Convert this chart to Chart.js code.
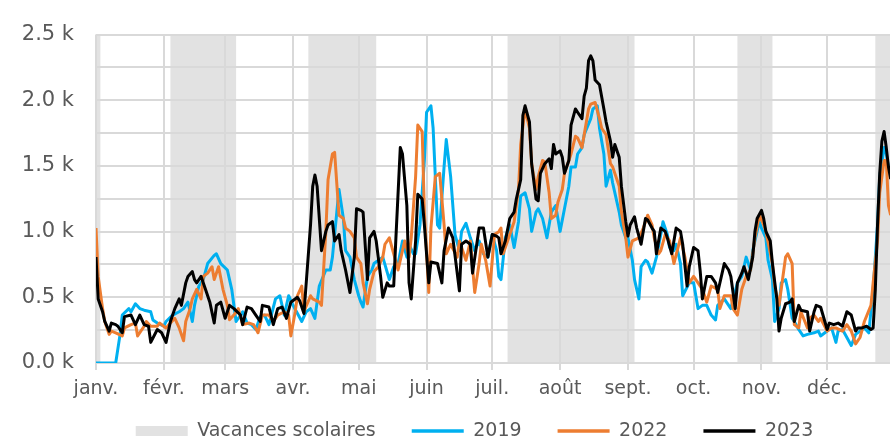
<!DOCTYPE html>
<html>
<head>
<meta charset="utf-8">
<script src="https://cdn.jsdelivr.net/npm/chart.js@4/dist/chart.umd.min.js"></script>
<style>
  body { margin: 0; background: #fff; }
</style>
</head>
<body>
<canvas id="myChart" width="890" height="442"></canvas>
<script>
// month ticks (day of year where each month starts)
const monthStarts = [0, 31, 59, 90, 120, 151, 181, 212, 243, 273, 304, 334];
const monthLabels = ["janv.", "févr.", "mars", "avr.", "mai", "juin", "juil.", "août", "sept.", "oct.", "nov.", "déc."];

// school holidays (day of year)
const vacStart = [0, 34, 97, 188, 293, 356];
const vacEnd = [2, 64, 128, 246, 309, 365];

// 2019
const days2019 = [0, 9, 11, 12, 15, 16, 18, 20, 22, 25, 26, 28, 31, 32, 35, 38, 40, 42, 44, 45, 47, 49, 51, 54, 55, 57, 60, 62, 64, 67, 69, 71, 73, 75, 77, 79, 82, 84, 86, 88, 90, 94, 96, 98, 100, 102, 105, 107, 108, 110, 111, 113, 114, 116, 118, 120, 121, 122, 124, 126, 127, 129, 131, 134, 136, 138, 140, 142, 143, 145, 146, 148, 150, 151, 153, 154, 156, 157, 159, 160, 162, 164, 166, 167, 169, 171, 173, 175, 177, 179, 181, 183, 184, 185, 187, 189, 191, 193, 194, 196, 198, 199, 201, 202, 204, 206, 208, 210, 211, 212, 214, 216, 217, 219, 220, 222, 223, 226, 227, 229, 230, 232, 233, 235, 236, 239, 240, 242, 243, 245, 246, 248, 249, 251, 252, 254, 256, 258, 259, 261, 262, 264, 265, 267, 268, 271, 273, 275, 277, 279, 281, 283, 284, 287, 289, 290, 293, 295, 297, 299, 300, 303, 304, 306, 307, 309, 310, 312, 313, 315, 316, 318, 319, 321, 323, 325, 328, 330, 331, 334, 336, 338, 339, 341, 343, 345, 347, 349, 351, 353, 355, 357, 358, 360, 361, 362];
const vals2019 = [0, 0, 218, 365, 414, 390, 451, 414, 402, 390, 328, 304, 280, 316, 365, 390, 414, 463, 316, 439, 586, 635, 757, 819, 831, 757, 708, 561, 316, 390, 304, 292, 255, 353, 365, 292, 488, 512, 365, 512, 439, 316, 390, 414, 340, 586, 708, 708, 806, 1149, 1321, 1100, 855, 806, 635, 512, 463, 426, 659, 708, 757, 782, 806, 635, 733, 757, 929, 806, 904, 831, 831, 1051, 1542, 1909, 1958, 1787, 1051, 1027, 1493, 1701, 1419, 978, 855, 1002, 1064, 953, 855, 929, 831, 806, 978, 855, 659, 635, 953, 1051, 880, 1076, 1272, 1296, 1174, 1002, 1149, 1174, 1100, 953, 1149, 1198, 1100, 1002, 1174, 1346, 1493, 1493, 1591, 1640, 1738, 1860, 1934, 1958, 1787, 1591, 1346, 1468, 1370, 1149, 1051, 953, 953, 782, 635, 488, 733, 782, 769, 684, 806, 978, 1076, 978, 880, 855, 904, 757, 512, 610, 610, 414, 439, 439, 365, 328, 439, 488, 439, 414, 610, 659, 806, 708, 855, 1076, 1027, 953, 782, 635, 316, 414, 610, 635, 561, 341, 316, 255, 206, 218, 230, 243, 206, 243, 267, 157, 243, 255, 194, 133, 218, 243, 267, 230, 561, 1051, 1419, 1640, 1591, 1493];

// 2022
const days2022 = [0, 1, 3, 4, 6, 7, 9, 12, 13, 16, 18, 19, 22, 23, 25, 28, 29, 32, 34, 36, 38, 40, 41, 43, 44, 46, 48, 49, 51, 53, 54, 56, 58, 60, 61, 63, 65, 67, 70, 72, 74, 76, 79, 81, 83, 86, 88, 89, 91, 92, 94, 95, 98, 99, 102, 103, 105, 106, 108, 109, 111, 113, 114, 116, 118, 119, 121, 122, 124, 125, 127, 129, 131, 132, 134, 136, 138, 140, 141, 143, 144, 146, 147, 149, 150, 152, 153, 155, 157, 159, 160, 162, 165, 166, 169, 171, 173, 175, 176, 178, 180, 182, 184, 185, 186, 188, 191, 193, 194, 196, 198, 199, 201, 202, 204, 205, 207, 208, 210, 211, 213, 214, 217, 219, 220, 222, 223, 225, 226, 228, 230, 231, 233, 235, 236, 239, 240, 242, 243, 245, 248, 250, 252, 254, 255, 257, 258, 260, 262, 264, 267, 269, 271, 273, 274, 277, 279, 281, 284, 285, 287, 290, 291, 293, 295, 297, 299, 301, 303, 305, 306, 309, 310, 312, 313, 315, 316, 318, 319, 321, 322, 325, 326, 328, 330, 331, 334, 336, 338, 341, 343, 345, 347, 349, 351, 354, 355, 357, 358, 360, 361, 362, 363];
const vals2022 = [1027, 659, 414, 316, 218, 243, 230, 206, 267, 292, 304, 206, 280, 316, 280, 280, 304, 267, 304, 340, 267, 169, 316, 414, 488, 561, 488, 659, 684, 733, 635, 733, 561, 439, 330, 365, 414, 292, 304, 292, 230, 365, 365, 316, 365, 390, 365, 206, 390, 512, 586, 390, 512, 488, 463, 439, 1002, 1395, 1591, 1603, 1125, 1100, 1027, 1002, 953, 806, 757, 610, 451, 561, 696, 733, 806, 904, 953, 831, 708, 855, 929, 806, 953, 1419, 1811, 1762, 1149, 537, 1027, 1419, 1444, 1051, 831, 904, 806, 929, 782, 929, 537, 757, 904, 782, 586, 978, 1000, 1027, 831, 929, 1076, 1321, 1664, 1934, 1787, 1517, 1321, 1419, 1542, 1529, 1296, 1100, 1125, 1223, 1321, 1444, 1591, 1726, 1713, 1640, 1738, 1934, 1970, 1983, 1860, 1787, 1738, 1517, 1493, 1346, 1149, 953, 806, 929, 953, 1027, 1125, 1051, 953, 831, 855, 978, 929, 757, 953, 806, 610, 659, 635, 561, 463, 586, 561, 414, 512, 512, 414, 365, 561, 659, 708, 953, 1125, 1051, 1002, 757, 586, 439, 561, 806, 831, 757, 292, 267, 390, 267, 341, 365, 316, 341, 243, 267, 267, 243, 292, 243, 145, 194, 316, 439, 610, 929, 1296, 1542, 1542, 1198, 1125];

// 2023
const days2023 = [0, 1, 3, 4, 6, 7, 9, 10, 12, 13, 16, 18, 20, 22, 24, 25, 28, 30, 32, 34, 36, 38, 39, 41, 42, 44, 45, 46, 48, 50, 52, 54, 55, 57, 59, 61, 63, 66, 67, 69, 71, 73, 75, 76, 79, 81, 83, 85, 87, 89, 92, 93, 95, 98, 99, 100, 101, 103, 105, 106, 108, 109, 111, 112, 114, 116, 118, 119, 121, 122, 124, 125, 127, 128, 130, 131, 133, 134, 136, 137, 139, 140, 142, 143, 144, 146, 147, 149, 150, 152, 153, 156, 158, 159, 161, 163, 166, 167, 169, 171, 172, 175, 177, 179, 181, 183, 184, 185, 187, 189, 191, 192, 194, 195, 196, 198, 199, 201, 202, 203, 205, 207, 208, 209, 210, 212, 213, 214, 216, 217, 219, 220, 222, 223, 224, 225, 226, 227, 228, 230, 232, 233, 235, 236, 237, 239, 240, 242, 243, 244, 246, 247, 249, 251, 252, 254, 255, 256, 258, 260, 261, 263, 265, 267, 268, 270, 271, 273, 275, 276, 277, 279, 281, 283, 284, 287, 289, 290, 292, 293, 295, 296, 298, 300, 301, 302, 304, 305, 306, 308, 309, 311, 312, 313, 315, 317, 318, 319, 321, 322, 325, 326, 328, 329, 331, 334, 335, 337, 339, 341, 343, 345, 347, 348, 350, 352, 354, 355, 356, 357, 358, 359, 360, 361, 362, 363];
const vals2023 = [806, 488, 390, 316, 243, 304, 292, 280, 230, 353, 365, 292, 365, 292, 280, 157, 255, 230, 157, 316, 414, 488, 439, 610, 659, 696, 635, 610, 659, 561, 463, 304, 439, 463, 340, 439, 414, 365, 292, 426, 414, 365, 316, 439, 426, 292, 414, 426, 340, 463, 500, 475, 377, 1051, 1346, 1431, 1346, 855, 1002, 1051, 1076, 929, 978, 855, 708, 537, 806, 1174, 1162, 1149, 635, 953, 1002, 929, 659, 500, 610, 586, 586, 953, 1640, 1591, 1198, 610, 488, 929, 1284, 1248, 1051, 610, 769, 757, 610, 855, 1027, 953, 549, 904, 929, 904, 684, 1027, 1027, 806, 978, 966, 953, 831, 929, 1100, 1149, 1248, 1395, 1885, 1958, 1836, 1517, 1248, 1235, 1444, 1517, 1554, 1480, 1664, 1591, 1615, 1566, 1444, 1542, 1811, 1934, 1909, 1860, 2032, 2093, 2301, 2338, 2300, 2154, 2118, 1934, 1836, 1689, 1566, 1664, 1566, 1346, 1076, 966, 1051, 1113, 1027, 904, 1100, 1088, 1027, 1002, 831, 1027, 1002, 953, 831, 1027, 1002, 904, 586, 733, 880, 855, 700, 488, 659, 659, 610, 537, 757, 708, 659, 414, 610, 684, 733, 635, 806, 1002, 1100, 1162, 1100, 1002, 929, 757, 488, 243, 341, 451, 463, 488, 316, 439, 402, 390, 243, 390, 439, 426, 255, 304, 292, 304, 280, 390, 365, 243, 267, 267, 280, 255, 267, 561, 1051, 1444, 1689, 1762, 1640, 1493, 1400];

const bandColor = "#e2e2e2";
const textColor = "#595959";
const gridColor = "#d9d9d9";

const toPoints = (days, vals) => days.map((d, i) => ({ x: d, y: vals[i] }));

// grey holiday bands behind the grid
const vacancesBands = {
  id: "vacancesBands",
  beforeDraw(chart) {
    const { ctx, chartArea, scales } = chart;
    ctx.save();
    ctx.fillStyle = bandColor;
    for (let i = 0; i < vacStart.length; i++) {
      const x1 = scales.x.getPixelForValue(vacStart[i]);
      const x2 = Math.min(scales.x.getPixelForValue(vacEnd[i]), chartArea.right);
      ctx.fillRect(x1, chartArea.top, x2 - x1, chartArea.bottom - chartArea.top);
    }
    ctx.restore();
  },
};

// move the legend a bit (up, and centred a little right of the canvas)
const legendShift = {
  id: "legendShift",
  afterLayout(chart) {
    const lg = chart.legend;
    lg.top -= 19.5;
    lg.bottom -= 19.5;
    lg.left = 59;
  },
};

Chart.defaults.font.family = "DejaVu Sans";
Chart.defaults.color = textColor;

new Chart("myChart", {
  type: "line",
  data: {
    datasets: [
      { label: "2019", data: toPoints(days2019, vals2019), borderColor: "#00b0f0", order: 2 },
      { label: "2022", data: toPoints(days2022, vals2022), borderColor: "#ed7d31", order: 1 },
      { label: "2023", data: toPoints(days2023, vals2023), borderColor: "#000000", order: 0 },
    ],
  },
  options: {
    responsive: false,
    animation: false,
    devicePixelRatio: 1,
    layout: { padding: { left: 0, top: 23, right: 0, bottom: -28 } },
    elements: {
      point: { radius: 0 },
      line: { borderWidth: 3, tension: 0, borderJoinStyle: "round" },
    },
    scales: {
      x: {
        type: "linear",
        min: 0,
        max: 362.7,
        afterBuildTicks: (scale) => {
          scale.ticks = monthStarts.map((v) => ({ value: v }));
        },
        afterFit: (scale) => {
          scale.height = 42;
        },
        ticks: {
          autoSkip: false,
          maxRotation: 0,
          padding: 8,
          font: { size: 19 },
          color: textColor,
          callback: (value, index) => monthLabels[index],
        },
        grid: { color: gridColor, lineWidth: 2, tickLength: 7 },
        border: { display: false },
      },
      y: {
        min: 0,
        max: 2500,
        afterFit: (scale) => {
          scale.width = 96;
        },
        ticks: {
          stepSize: 250,
          padding: 22,
          font: { size: 21 },
          color: textColor,
          callback: (v) => (v % 500 === 0 ? (v / 1000).toFixed(1) + " k" : ""),
        },
        grid: { color: gridColor, lineWidth: 2, drawTicks: false },
        border: { display: false },
      },
    },
    plugins: {
      tooltip: { enabled: false },
      legend: {
        position: "bottom",
        onClick: null,
        labels: {
          usePointStyle: true,
          pointStyleWidth: 52,
          boxHeight: 10,
          padding: 36,
          font: { size: 19 },
          color: textColor,
          generateLabels: (chart) => {
            const items = [
              { text: "Vacances scolaires", fillStyle: bandColor, strokeStyle: bandColor, lineWidth: 0, pointStyle: "rect", hidden: false, fontColor: textColor },
            ];
            chart.data.datasets.forEach((ds, i) => {
              items.push({ text: ds.label, fillStyle: ds.borderColor, strokeStyle: ds.borderColor, lineWidth: 3.5, pointStyle: "line", hidden: false, datasetIndex: i, fontColor: textColor });
            });
            return items;
          },
        },
      },
    },
  },
  plugins: [vacancesBands, legendShift],
});
</script>
</body>
</html>
